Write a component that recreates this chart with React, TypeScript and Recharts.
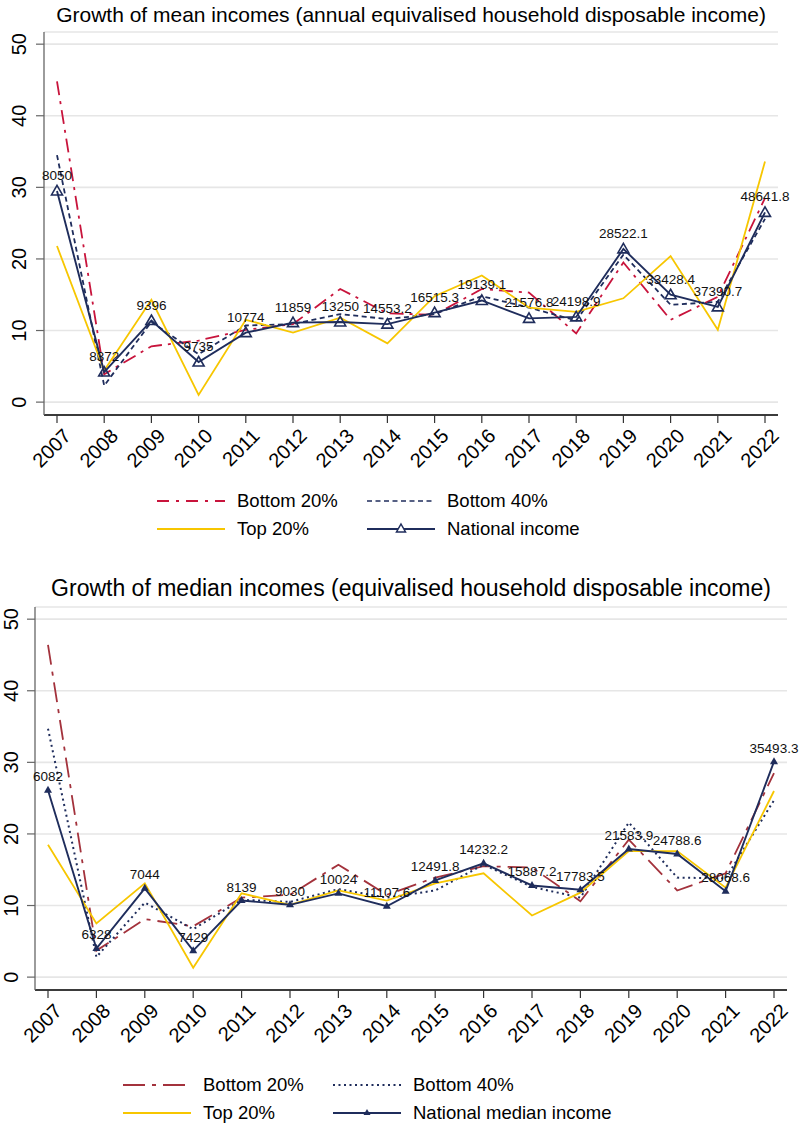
import React from "react";
import { LineChart, Line, XAxis, YAxis, CartesianGrid, LabelList } from "recharts";

const FONT = '"Liberation Sans", Arial, Helvetica, sans-serif';

const years = ["2007", "2008", "2009", "2010", "2011", "2012", "2013", "2014", "2015", "2016", "2017", "2018", "2019", "2020", "2021", "2022"];
const yTicks = [0, 10, 20, 30, 40, 50];

// mean incomes, growth in %
const meanBottom20 = [44.8, 3.9, 7.8, 8.6, 10.1, 10.9, 15.8, 12.4, 12.2, 15.8, 15.3, 9.6, 19.5, 11.5, 14.7, 28.5];
const meanBottom40 = [34.5, 2.3, 11.2, 6.7, 10.7, 10.9, 12.3, 11.6, 12.3, 14.8, 13.2, 11.4, 20.6, 13.6, 14.0, 25.6];
const meanTop20 = [21.8, 4.4, 14.3, 1.0, 11.5, 9.7, 11.8, 8.2, 14.8, 17.7, 13.2, 12.6, 14.5, 20.4, 10.1, 33.6];
const meanNational = [29.5, 4.2, 11.4, 5.6, 9.7, 11.1, 11.2, 10.9, 12.5, 14.2, 11.7, 11.9, 21.4, 15.0, 13.3, 26.5];
const meanLabels = ["8050", "8372", "9396", "9735", "10774", "11859", "13250", "14553.2", "16515.3", "19139.1", "21576.8", "24198.9", "28522.1", "33428.4", "37390.7", "48641.8"];

// median incomes, growth in %
const medBottom20 = [46.4, 3.7, 8.1, 7.1, 11.1, 11.5, 15.7, 11.5, 13.9, 15.5, 15.3, 10.6, 19.2, 12.1, 14.5, 28.5];
const medBottom40 = [34.7, 2.8, 10.4, 6.7, 10.8, 10.5, 12.3, 11.1, 12.1, 15.7, 12.6, 11.1, 21.6, 13.9, 13.8, 24.7];
const medTop20 = [18.5, 7.5, 13.1, 1.3, 11.7, 10.1, 12.1, 10.7, 13.1, 14.5, 8.6, 11.8, 17.6, 17.6, 12.5, 26.0];
const medNational = [26.1, 4.0, 12.4, 3.7, 10.7, 10.1, 11.7, 9.9, 13.5, 15.9, 12.8, 12.2, 17.9, 17.2, 12.0, 30.1];
const medLabels = ["6082", "6328", "7044", "7429", "8139", "9030", "10024", "11107.6", "12491.8", "14232.2", "15887.2", "17783.5", "21583.9", "24788.6", "28068.6", "35493.3"];

const NAVY = "#1f2d5c";
const GOLD = "#f7c600";

const meanData = years.map((year, i) => ({
  year,
  b20: meanBottom20[i],
  b40: meanBottom40[i],
  top20: meanTop20[i],
  nat: meanNational[i],
  label: meanLabels[i],
}));

const medData = years.map((year, i) => ({
  year,
  b20: medBottom20[i],
  b40: medBottom40[i],
  top20: medTop20[i],
  nat: medNational[i],
  label: medLabels[i],
}));

const XTick = (props: any) => {
  const { x, y, payload } = props;
  return (
    <g transform={`translate(${x + 5},${y + 2}) rotate(-45)`}>
      <text x={0} y={0} textAnchor="end" dominantBaseline="hanging" fontSize={20} fontFamily={FONT} fill="#000">
        {payload.value}
      </text>
    </g>
  );
};

const makeYTick = (cx: number) => (props: any) => {
  const { y, payload } = props;
  return (
    <g transform={`translate(${cx},${y}) rotate(-90)`}>
      <text x={0} y={0} textAnchor="middle" dominantBaseline="central" fontSize={20} fontFamily={FONT} fill="#000">
        {payload.value}
      </text>
    </g>
  );
};

const hollowTri = (props: any) => {
  const { cx, cy, index } = props;
  if (cx == null || cy == null) return <g key={index} />;
  return (
    <path
      key={index}
      d={`M${cx},${cy - 5.5} L${cx + 5.5},${cy + 4} L${cx - 5.5},${cy + 4} Z`}
      fill="none"
      stroke={NAVY}
      strokeWidth={1.6}
    />
  );
};

const solidTri = (props: any) => {
  const { cx, cy, index } = props;
  if (cx == null || cy == null) return <g key={index} />;
  return <path key={index} d={`M${cx},${cy - 4.5} L${cx + 4},${cy + 2.5} L${cx - 4},${cy + 2.5} Z`} fill={NAVY} />;
};

const makeLabel = (dy: number) => (props: any) => {
  const { x, y, value } = props;
  return (
    <text x={x} y={y - dy} textAnchor="middle" fontSize={13.5} fontFamily={FONT} fill="#111">
      {value}
    </text>
  );
};

type PanelProps = {
  data: any[];
  top: number;
  title: string;
  titleSize: number;
  titleTop: number;
  yAxisWidth: number;
  rightMargin: number;
  tickCx: number;
  redColor: string;
  redDash: string;
  b40Dash: string;
  b40Width: number;
  dot: any;
  labelDy: number;
};

function Panel(p: PanelProps) {
  return (
    <div style={{ position: "absolute", left: 0, top: p.top, width: 800, height: 470 }}>
      <div
        style={{
          position: "absolute",
          left: 0,
          top: p.titleTop,
          width: 822,
          textAlign: "center",
          fontFamily: FONT,
          fontSize: p.titleSize,
          lineHeight: 1.15,
          color: "#000",
          whiteSpace: "nowrap",
        }}
      >
        {p.title}
      </div>
      <LineChart width={800} height={470} data={p.data} margin={{ top: 32, right: p.rightMargin, left: 0, bottom: 5 }}>
        <CartesianGrid horizontal vertical={false} stroke="#e6e6e6" strokeWidth={1.6} />
        <XAxis
          dataKey="year"
          padding={{ left: 13, right: 13 }}
          height={50}
          tickSize={8}
          axisLine={{ stroke: "#000", strokeWidth: 1.3 }}
          tickLine={{ stroke: "#333", strokeWidth: 1.2 }}
          tick={<XTick />}
          interval={0}
        />
        <YAxis
          type="number"
          domain={[-1.8, 51.7]}
          ticks={yTicks}
          allowDataOverflow
          width={p.yAxisWidth}
          tickSize={8}
          axisLine={{ stroke: "#666", strokeWidth: 1.3 }}
          tickLine={{ stroke: "#666", strokeWidth: 1.2 }}
          tick={makeYTick(p.tickCx)}
        />
        <Line
          type="linear"
          dataKey="b20"
          stroke={p.redColor}
          strokeWidth={1.8}
          strokeDasharray={p.redDash}
          dot={false}
          isAnimationActive={false}
        />
        <Line
          type="linear"
          dataKey="b40"
          stroke={NAVY}
          strokeWidth={p.b40Width}
          strokeDasharray={p.b40Dash}
          dot={false}
          isAnimationActive={false}
        />
        <Line type="linear" dataKey="top20" stroke={GOLD} strokeWidth={1.8} dot={false} isAnimationActive={false} />
        <Line type="linear" dataKey="nat" stroke={NAVY} strokeWidth={1.9} dot={p.dot} isAnimationActive={false}>
          <LabelList dataKey="label" content={makeLabel(p.labelDy)} />
        </Line>
      </LineChart>
    </div>
  );
}

type LegendItem = { name: string; color: string; dash?: string; width?: number; marker?: "hollow" | "solid" };

function LegendBox({ top, x1, x2, items }: { top: number; x1: number; x2: number; items: LegendItem[] }) {
  const cols = [x1, x2];
  return (
    <div style={{ position: "absolute", left: 0, top, width: 800, height: 60 }}>
      {items.map((it, i) => {
        const left = cols[i % 2];
        const rowY = Math.floor(i / 2) * 28;
        return (
          <div key={it.name} style={{ position: "absolute", left, top: rowY, height: 28, display: "flex", alignItems: "center" }}>
            <svg width={70} height={28} style={{ display: "block" }}>
              <line x1={0} y1={14} x2={68} y2={14} stroke={it.color} strokeWidth={it.width || 1.8} strokeDasharray={it.dash} />
              {it.marker === "hollow" && <path d="M34,9 L38.5,17 L29.5,17 Z" fill="#fff" stroke={it.color} strokeWidth={1.5} />}
              {it.marker === "solid" && <path d="M34,10 L37.5,16 L30.5,16 Z" fill={it.color} />}
            </svg>
            <span style={{ marginLeft: 10, fontFamily: FONT, fontSize: 18.5, color: "#000", whiteSpace: "nowrap" }}>{it.name}</span>
          </div>
        );
      })}
    </div>
  );
}

export default function App() {
  return (
    <div style={{ position: "absolute", left: 0, top: 0, width: 800, height: 1131, background: "#fff", overflow: "hidden" }}>
      <Panel
        data={meanData}
        top={0}
        title="Growth of mean incomes (annual equivalised household disposable income)"
        titleSize={21}
        titleTop={3}
        yAxisWidth={44}
        rightMargin={22}
        tickCx={19}
        redColor="#c8143c"
        redDash="14 6 3 6"
        b40Dash="5 3.5"
        b40Width={1.8}
        dot={hollowTri}
        labelDy={11}
      />
      <LegendBox
        top={487}
        x1={157}
        x2={367}
        items={[
          { name: "Bottom 20%", color: "#c8143c", dash: "12 7 3 7" },
          { name: "Bottom 40%", color: NAVY, dash: "5 3.5", width: 1.6 },
          { name: "Top 20%", color: GOLD },
          { name: "National income", color: NAVY, marker: "hollow" },
        ]}
      />
      <Panel
        data={medData}
        top={575}
        title="Growth of median incomes (equivalised household disposable income)"
        titleSize={23}
        titleTop={0}
        yAxisWidth={35}
        rightMargin={13}
        tickCx={11}
        redColor="#a3323c"
        redDash="20 7 4 7"
        b40Dash="2 3.5"
        b40Width={2}
        dot={solidTri}
        labelDy={9}
      />
      <LegendBox
        top={1071}
        x1={123}
        x2={333}
        items={[
          { name: "Bottom 20%", color: "#a3323c", dash: "22 7 4 7" },
          { name: "Bottom 40%", color: NAVY, dash: "2 3.5", width: 1.8 },
          { name: "Top 20%", color: GOLD },
          { name: "National median income", color: NAVY, marker: "solid" },
        ]}
      />
    </div>
  );
}
